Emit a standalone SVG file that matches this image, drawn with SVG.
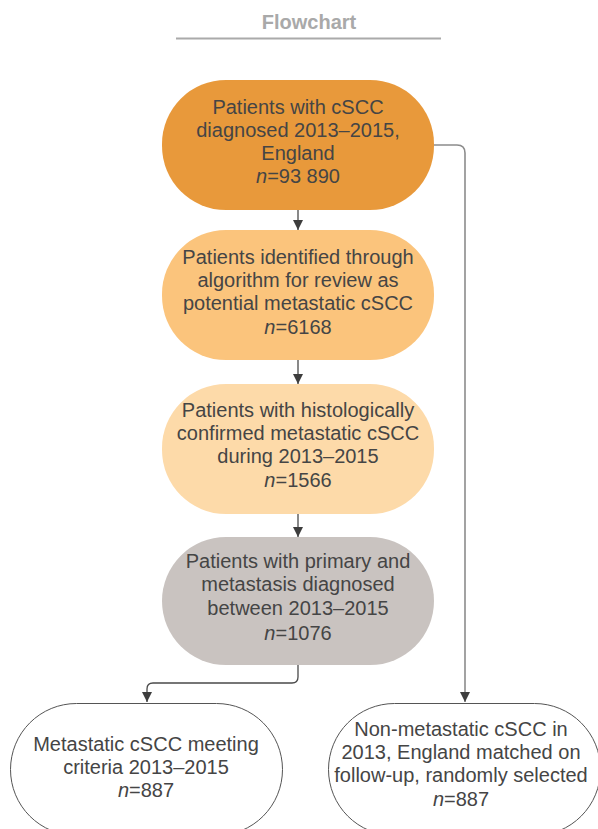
<svg xmlns="http://www.w3.org/2000/svg" width="598" height="829" viewBox="0 0 598 829">
<style>
text{font-family:"Liberation Sans",Arial,sans-serif;font-size:20px;fill:#454545;text-anchor:middle}
.title{font-weight:bold;fill:#a9a9a9}
.n{stroke:none}
.conn{fill:none;stroke:#4a4a4a;stroke-width:1.3}
.connR{fill:none;stroke:#8c8c8c;stroke-width:1.6}
.white{fill:#fff;stroke:#555;stroke-width:1}
</style>
<defs>
<marker id="ah" viewBox="0 0 10 10" refX="10" refY="5" markerWidth="10" markerHeight="10" markerUnits="userSpaceOnUse" orient="auto">
<path d="M0,0 L10,5 L0,10 Z" fill="#3d3d3d"/>
</marker>
</defs>
<g id="title">
<text class="title" x="309" y="29">Flowchart</text>
<line x1="176" y1="38.5" x2="441" y2="38.5" stroke="#aaa" stroke-width="2"/>
</g>
<g id="connectors">
<line class="conn" x1="298" y1="210" x2="298" y2="230" marker-end="url(#ah)"/>
<line class="conn" x1="298" y1="360" x2="298" y2="384" marker-end="url(#ah)"/>
<line class="conn" x1="298" y1="514" x2="298" y2="537" marker-end="url(#ah)"/>
<path class="conn" d="M298,665 V677 Q298,683 292,683 H153 Q147,683 147,689 V702" marker-end="url(#ah)"/>
<path class="connR" d="M434,145 H457 Q465,145 465,153 V702" marker-end="url(#ah)"/>
</g>
<g id="node1">
<rect class="n" x="162" y="80" width="272" height="130" rx="64" ry="64" fill="#e8993b"/>
<text x="298" y="114">Patients with cSCC</text>
<text x="298" y="137">diagnosed 2013–2015,</text>
<text x="298" y="160">England</text>
<text x="298" y="183"><tspan font-style="italic">n</tspan>=93 890</text>
</g>
<g id="node2">
<rect class="n" x="162" y="230" width="272" height="130" rx="64" ry="64" fill="#fbc47c"/>
<text x="298" y="264">Patients identified through</text>
<text x="298" y="287">algorithm for review as</text>
<text x="298" y="310">potential metastatic cSCC</text>
<text x="298" y="334"><tspan font-style="italic">n</tspan>=6168</text>
</g>
<g id="node3">
<rect class="n" x="162" y="384" width="272" height="130" rx="64" ry="64" fill="#fddaa9"/>
<text x="298" y="417">Patients with histologically</text>
<text x="298" y="440">confirmed metastatic cSCC</text>
<text x="298" y="463">during 2013–2015</text>
<text x="298" y="487"><tspan font-style="italic">n</tspan>=1566</text>
</g>
<g id="node4">
<rect class="n" x="162" y="537" width="272" height="128" rx="64" ry="64" fill="#c9c3c0"/>
<text x="298" y="568">Patients with primary and</text>
<text x="298" y="591">metastasis diagnosed</text>
<text x="298" y="615">between 2013–2015</text>
<text x="298" y="640"><tspan font-style="italic">n</tspan>=1076</text>
</g>
<g id="node5">
<rect class="white" x="10.5" y="703.5" width="272" height="132" rx="66" ry="66"/>
<text x="146" y="751">Metastatic cSCC meeting</text>
<text x="146" y="774">criteria 2013–2015</text>
<text x="146" y="797"><tspan font-style="italic">n</tspan>=887</text>
</g>
<g id="node6">
<rect class="white" x="328.5" y="703.5" width="272" height="132" rx="66" ry="66"/>
<text x="461" y="736">Non-metastatic cSCC in</text>
<text x="461" y="759">2013, England matched on</text>
<text x="461" y="782">follow-up, randomly selected</text>
<text x="461" y="806"><tspan font-style="italic">n</tspan>=887</text>
</g>
</svg>
